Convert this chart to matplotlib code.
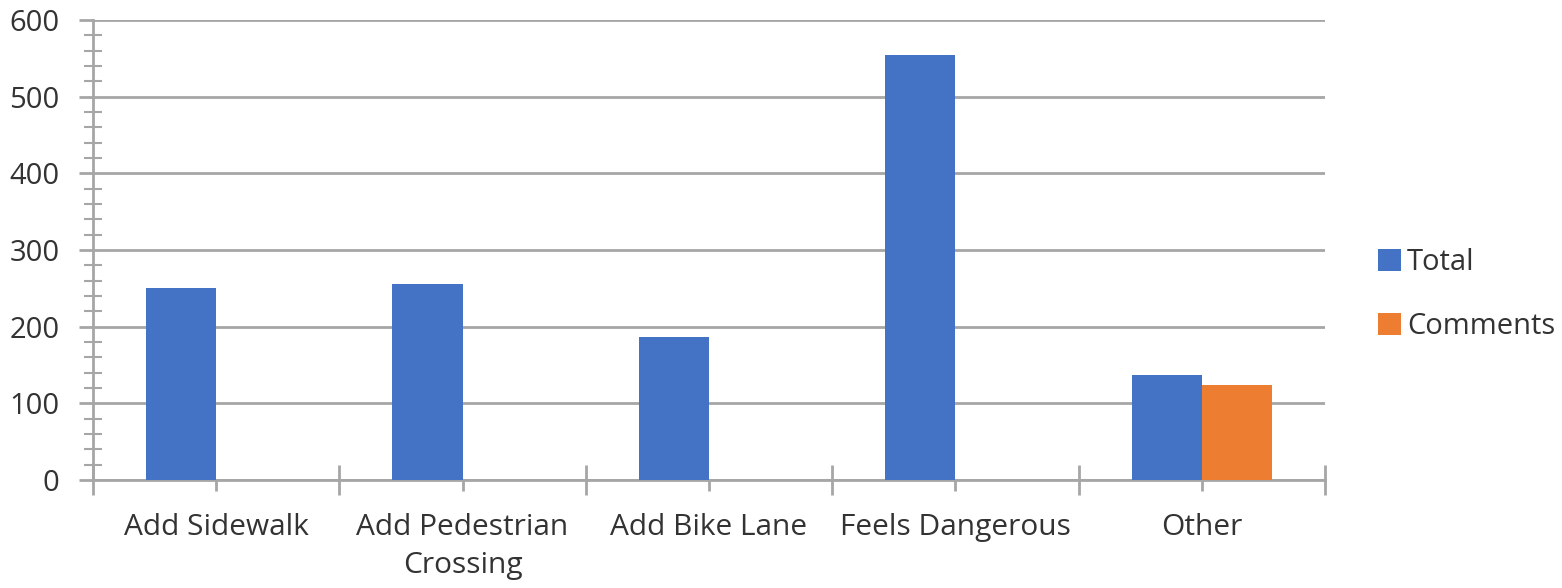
import matplotlib
matplotlib.use("Agg")
import matplotlib.pyplot as plt
import numpy as np
from matplotlib.ticker import MultipleLocator, FixedLocator, NullFormatter

categories = ["Add Sidewalk", "Add Pedestrian\nCrossing", "Add Bike Lane", "Feels Dangerous", "Other"]
total = [250, 256, 187, 554, 137]
comments = [0, 0, 0, 0, 124]
y_ticks = [0, 100, 200, 300, 400, 500, 600]

BLUE = "#4472C4"
ORANGE = "#ED7D31"
GRID = "#A6A6A6"
TEXT = "#333333"

plt.rcParams["font.family"] = ["Open Sans", "DejaVu Sans"]

fig = plt.figure(figsize=(15.62, 5.88), dpi=100)
ax = fig.add_axes([93 / 1562, 1 - 480 / 588, (1325 - 93) / 1562, 460 / 588])

x = np.arange(len(categories))
w = 0.285
ax.bar(x - w / 2, total, width=w, color=BLUE, label="Total", zorder=3)
ax.bar(x + w / 2, comments, width=w, color=ORANGE, label="Comments", zorder=3)

ax.set_xlim(-0.5, len(categories) - 0.5)
ax.set_ylim(0, 600)
ax.set_yticks(y_ticks)
ax.yaxis.set_minor_locator(MultipleLocator(20))
ax.yaxis.grid(True, which="major", color=GRID, linewidth=2, zorder=0)
ax.set_axisbelow(True)

# category boundaries as major ticks, category centres as short minor ticks
ax.xaxis.set_major_locator(FixedLocator(np.arange(-0.5, len(categories), 1.0)))
ax.xaxis.set_major_formatter(NullFormatter())
ax.xaxis.set_minor_locator(FixedLocator(x))
ax.set_xticks(x, minor=True)
ax.set_xticklabels(categories, minor=True, fontsize=21.5, color=TEXT, linespacing=1.4)

for side in ["top", "right"]:
    ax.spines[side].set_visible(False)
for side in ["left", "bottom"]:
    ax.spines[side].set_color(GRID)
    ax.spines[side].set_linewidth(2)

ax.tick_params(axis="x", which="major", direction="inout", length=22, width=2, color=GRID)
ax.tick_params(axis="x", which="minor", direction="out", length=8, width=2, color=GRID, pad=16)
ax.tick_params(axis="y", which="major", direction="out", length=10, width=2, color=GRID,
               labelsize=21, labelcolor=TEXT, pad=14)
ax.tick_params(axis="y", which="minor", direction="inout", length=13, width=1.5, color=GRID)

leg = ax.legend(loc="center left", bbox_to_anchor=((1378 - 93) / 1232, (480 - 295) / 460),
                frameon=False, borderpad=0, borderaxespad=0,
                fontsize=21, handlelength=0.79, handleheight=0.79, handletextpad=0.2,
                labelspacing=1.2, labelcolor=TEXT)

fig.savefig("out.png", dpi=100)
